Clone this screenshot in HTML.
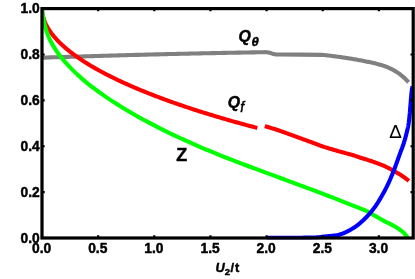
<!DOCTYPE html>
<html><head><meta charset="utf-8"><title>chart</title>
<style>
html,body{margin:0;padding:0;background:#fff;}
body{width:415px;height:279px;position:relative;overflow:hidden;font-family:"Liberation Sans",sans-serif;color:#000;}
.yl{position:absolute;left:0;width:39.8px;text-align:right;font-weight:bold;font-size:13.8px;line-height:15px;height:15px;transform:scaleX(1.0);transform-origin:right center;-webkit-text-stroke:0.45px #000;}
.xl{position:absolute;top:241.3px;width:40px;text-align:center;font-weight:bold;font-size:13.8px;line-height:15px;height:15px;transform:scaleX(1.0);-webkit-text-stroke:0.45px #000;}
.lb{position:absolute;white-space:nowrap;font-weight:bold;line-height:1;-webkit-text-stroke:0.45px #000;}
.lb i{font-style:italic;}
.lb sub{vertical-align:baseline;position:relative;}
</style></head><body>
<svg width="415" height="279" viewBox="0 0 415 279" style="position:absolute;left:0;top:0">
<defs><clipPath id="cp"><rect x="42.0" y="8.6" width="371.20" height="230.90"/></clipPath></defs>
<g fill="none" stroke-width="4.1" stroke-linejoin="round" stroke-linecap="butt" clip-path="url(#cp)">
<path d="M42.00,57.69 L44.83,57.59 L47.66,57.50 L50.49,57.41 L53.32,57.32 L56.15,57.23 L58.97,57.14 L61.80,57.05 L64.63,56.96 L67.46,56.87 L70.29,56.78 L73.12,56.69 L75.95,56.60 L78.78,56.52 L81.61,56.43 L84.44,56.35 L87.27,56.26 L90.09,56.18 L92.92,56.10 L95.75,56.01 L98.58,55.93 L101.41,55.85 L104.24,55.77 L107.07,55.69 L109.90,55.61 L112.73,55.53 L115.56,55.45 L118.39,55.37 L121.22,55.30 L124.04,55.22 L126.87,55.14 L129.70,55.07 L132.53,54.99 L135.36,54.92 L138.19,54.84 L141.02,54.77 L143.85,54.70 L146.68,54.63 L149.51,54.56 L152.34,54.49 L155.16,54.42 L157.99,54.35 L160.82,54.28 L163.65,54.21 L166.48,54.14 L169.31,54.07 L172.14,54.01 L174.97,53.94 L177.80,53.88 L180.63,53.81 L183.46,53.75 L186.28,53.68 L189.11,53.62 L191.94,53.56 L194.77,53.50 L197.60,53.44 L200.43,53.38 L203.26,53.32 L206.09,53.26 L208.92,53.20 L211.75,53.14 L214.58,53.08 L217.41,53.03 L220.23,52.97 L223.06,52.91 L225.89,52.86 L228.72,52.80 L231.55,52.75 L234.38,52.70 L237.21,52.64 L240.04,52.59 L242.87,52.54 L245.70,52.49 L248.53,52.44 L251.35,52.39 L254.18,52.34 L257.01,52.29 L259.84,52.25 L262.67,52.20 L265.50,52.15 L265.71,52.17 L265.92,52.19 L266.13,52.21 L266.33,52.22 L266.54,52.24 L266.75,52.25 L266.96,52.27 L267.17,52.29 L267.38,52.31 L267.58,52.34 L267.79,52.37 L268.00,52.40 L268.21,52.44 L268.42,52.48 L268.62,52.52 L268.83,52.56 L269.03,52.61 L269.24,52.66 L269.45,52.71 L269.65,52.77 L269.86,52.82 L270.07,52.88 L270.28,52.94 L270.50,53.00 L270.74,53.07 L270.98,53.15 L271.23,53.24 L271.47,53.33 L271.72,53.42 L271.97,53.51 L272.22,53.60 L272.47,53.69 L272.73,53.78 L272.98,53.86 L273.24,53.93 L273.50,54.00 L273.77,54.06 L274.05,54.12 L274.33,54.18 L274.62,54.23 L274.90,54.27 L275.19,54.32 L275.48,54.36 L275.77,54.39 L276.05,54.42 L276.34,54.45 L276.62,54.48 L276.90,54.50 L277.16,54.52 L277.42,54.53 L277.68,54.53 L277.94,54.53 L278.20,54.53 L278.46,54.53 L278.71,54.52 L278.97,54.52 L279.23,54.51 L279.48,54.51 L279.74,54.50 L280.00,54.50 L300.90,54.60 L322.20,54.83 L323.29,54.95 L324.39,55.07 L325.48,55.19 L326.57,55.32 L327.67,55.44 L328.76,55.57 L329.86,55.70 L330.95,55.84 L332.04,55.97 L333.14,56.11 L334.23,56.25 L335.32,56.39 L336.42,56.54 L337.51,56.68 L338.61,56.83 L339.70,56.98 L340.79,57.13 L341.89,57.29 L342.98,57.45 L344.07,57.61 L345.17,57.77 L346.26,57.94 L347.35,58.11 L348.45,58.28 L349.54,58.45 L350.64,58.63 L351.73,58.81 L352.82,58.99 L353.92,59.18 L355.01,59.37 L356.10,59.56 L357.20,59.75 L358.29,59.95 L359.38,60.15 L360.48,60.36 L361.57,60.57 L362.67,60.78 L363.76,60.99 L364.85,61.21 L365.95,61.43 L367.04,61.66 L368.13,61.88 L369.23,62.12 L370.32,62.35 L371.42,62.59 L372.51,62.83 L373.60,63.08 L374.70,63.33 L375.79,63.60 L376.88,63.87 L377.98,64.15 L379.07,64.44 L380.16,64.74 L381.26,65.06 L382.35,65.40 L383.45,65.75 L384.54,66.13 L385.63,66.52 L386.73,66.94 L387.82,67.38 L388.91,67.85 L390.01,68.34 L391.10,68.86 L392.19,69.41 L393.29,69.99 L394.38,70.61 L395.48,71.25 L396.57,71.94 L397.66,72.66 L398.76,73.42 L399.85,74.22 L400.94,75.06 L402.04,75.95 L403.13,76.88 L404.23,77.85 L405.32,78.87 L406.41,79.95 L407.51,81.07 L408.60,82.24" stroke="#808080"/>
<path d="M42.00,8.28 L42.01,8.86 L42.02,9.45 L42.05,10.04 L42.09,10.63 L42.14,11.22 L42.20,11.82 L42.27,12.41 L42.35,13.00 L42.44,13.59 L42.54,14.19 L42.66,14.78 L42.78,15.38 L42.92,15.97 L43.07,16.57 L43.22,17.17 L43.39,17.76 L43.57,18.36 L43.76,18.96 L43.96,19.56 L44.17,20.16 L44.40,20.76 L44.63,21.36 L44.88,21.96 L45.13,22.56 L45.40,23.16 L45.68,23.76 L45.96,24.36 L46.26,24.96 L46.57,25.57 L46.89,26.17 L47.22,26.77 L47.57,27.38 L47.92,27.98 L48.28,28.59 L48.66,29.19 L49.05,29.80 L49.44,30.40 L49.85,31.01 L50.27,31.62 L50.70,32.22 L51.14,32.83 L51.59,33.44 L52.05,34.05 L52.53,34.65 L53.01,35.26 L53.50,35.87 L54.01,36.48 L54.53,37.09 L55.05,37.70 L55.59,38.31 L56.14,38.92 L56.70,39.53 L57.27,40.14 L57.85,40.75 L58.45,41.36 L59.05,41.97 L59.66,42.58 L60.29,43.20 L60.93,43.81 L61.57,44.42 L62.23,45.03 L62.90,45.64 L63.58,46.26 L64.27,46.87 L64.97,47.48 L65.68,48.09 L66.41,48.71 L67.14,49.32 L67.88,49.93 L68.64,50.55 L69.41,51.16 L70.18,51.77 L70.97,52.39 L71.77,53.00 L72.58,53.61 L73.40,54.23 L74.23,54.84 L75.08,55.46 L75.93,56.07 L76.80,56.68 L77.67,57.30 L78.56,57.91 L79.45,58.53 L80.36,59.14 L81.28,59.76 L82.21,60.37 L83.15,60.98 L84.10,61.60 L85.06,62.21 L86.04,62.83 L87.02,63.44 L88.02,64.05 L89.02,64.67 L90.04,65.28 L91.07,65.90 L92.10,66.51 L93.15,67.12 L94.21,67.74 L95.29,68.35 L96.37,68.96 L97.46,69.58 L98.56,70.19 L99.68,70.80 L100.80,71.42 L101.94,72.03 L103.09,72.64 L104.25,73.25 L105.41,73.86 L106.59,74.48 L107.78,75.09 L108.99,75.70 L110.20,76.31 L111.42,76.92 L112.66,77.53 L113.90,78.15 L115.16,78.76 L116.42,79.37 L117.70,79.98 L118.99,80.59 L120.29,81.20 L121.60,81.81 L122.92,82.41 L124.25,83.02 L125.60,83.63 L126.95,84.24 L128.31,84.85 L129.69,85.46 L131.08,86.06 L132.47,86.67 L133.88,87.28 L135.30,87.88 L136.73,88.49 L138.17,89.10 L139.62,89.70 L141.08,90.31 L142.56,90.91 L144.04,91.52 L145.54,92.12 L147.04,92.72 L148.56,93.33 L150.09,93.93 L151.63,94.53 L153.18,95.13 L154.74,95.73 L156.31,96.34 L157.89,96.94 L159.48,97.54 L161.09,98.14 L162.70,98.74 L164.33,99.33 L165.96,99.93 L167.61,100.53 L169.27,101.13 L170.94,101.72 L172.62,102.32 L174.31,102.92 L176.01,103.51 L177.72,104.11 L179.45,104.70 L181.18,105.30 L182.93,105.89 L184.68,106.48 L186.45,107.07 L188.23,107.66 L190.02,108.26 L191.81,108.85 L193.63,109.44 L195.45,110.03 L197.28,110.61 L199.12,111.20 L200.98,111.79 L202.84,112.38 L204.72,112.96 L206.60,113.55 L208.50,114.13 L210.41,114.72 L212.33,115.30 L214.26,115.88 L216.20,116.46 L218.15,117.05 L220.11,117.63 L222.09,118.21 L224.07,118.79 L226.07,119.36 L228.07,119.94 L230.09,120.52 L232.12,121.10 L234.16,121.67 L236.21,122.25 L238.27,122.82 L240.34,123.39 L242.42,123.97 L244.51,124.54 L246.62,125.11 L248.73,125.68 L250.86,126.25 L252.99,126.82 L255.14,127.39 L257.30,127.95" stroke="#ff0000"/>
<path d="M264.80,126.10 L265.36,126.27 L265.92,126.43 L266.48,126.60 L267.03,126.76 L267.59,126.93 L268.15,127.09 L268.71,127.26 L269.27,127.43 L269.83,127.59 L270.38,127.76 L270.94,127.93 L271.50,128.10 L272.05,128.27 L272.60,128.43 L273.14,128.60 L273.68,128.76 L274.22,128.93 L274.76,129.09 L275.30,129.26 L275.85,129.43 L276.42,129.61 L276.99,129.80 L277.59,130.00 L278.20,130.20 L279.01,130.48 L279.85,130.77 L280.72,131.08 L281.61,131.40 L282.52,131.73 L283.44,132.06 L284.37,132.40 L285.30,132.74 L286.23,133.09 L287.17,133.43 L288.09,133.77 L289.00,134.10 L289.91,134.43 L290.82,134.76 L291.74,135.09 L292.65,135.42 L293.56,135.76 L294.48,136.09 L295.39,136.42 L296.31,136.76 L297.23,137.09 L298.15,137.43 L299.07,137.76 L300.00,138.10 L300.95,138.45 L301.90,138.79 L302.86,139.14 L303.81,139.49 L304.77,139.84 L305.73,140.19 L306.69,140.54 L307.65,140.89 L308.62,141.24 L309.58,141.59 L310.54,141.95 L311.50,142.30 L312.47,142.66 L313.45,143.03 L314.43,143.40 L315.42,143.77 L316.40,144.15 L317.39,144.52 L318.37,144.89 L319.34,145.26 L320.30,145.61 L321.25,145.96 L322.18,146.29 L323.10,146.60 L323.88,146.86 L324.65,147.11 L325.41,147.35 L326.15,147.58 L326.89,147.80 L327.63,148.02 L328.36,148.23 L329.09,148.45 L329.81,148.66 L330.54,148.87 L331.27,149.08 L332.00,149.30 L332.71,149.51 L333.41,149.72 L334.10,149.93 L334.79,150.14 L335.48,150.34 L336.17,150.55 L336.86,150.75 L337.56,150.96 L338.27,151.17 L339.00,151.37 L339.74,151.59 L340.50,151.80 L341.43,152.06 L342.41,152.32 L343.41,152.58 L344.44,152.84 L345.48,153.11 L346.53,153.38 L347.57,153.65 L348.61,153.92 L349.63,154.19 L350.62,154.46 L351.58,154.73 L352.50,155.00 L353.22,155.22 L353.92,155.44 L354.59,155.67 L355.25,155.89 L355.90,156.11 L356.54,156.34 L357.17,156.56 L357.81,156.78 L358.46,157.01 L359.12,157.24 L359.80,157.47 L360.50,157.70 L361.33,157.97 L362.17,158.23 L363.03,158.50 L363.90,158.77 L364.79,159.04 L365.68,159.31 L366.58,159.58 L367.47,159.86 L368.36,160.14 L369.25,160.42 L370.13,160.71 L371.00,161.00 L371.85,161.29 L372.71,161.59 L373.57,161.89 L374.43,162.20 L375.29,162.51 L376.14,162.82 L376.98,163.14 L377.82,163.45 L378.64,163.77 L379.45,164.08 L380.23,164.39 L381.00,164.70 L381.63,164.96 L382.25,165.21 L382.85,165.46 L383.44,165.71 L384.02,165.96 L384.59,166.21 L385.16,166.47 L385.73,166.72 L386.29,166.98 L386.86,167.25 L387.43,167.52 L388.00,167.80 L388.59,168.09 L389.18,168.39 L389.76,168.70 L390.35,169.01 L390.93,169.32 L391.51,169.64 L392.10,169.96 L392.68,170.28 L393.26,170.61 L393.84,170.94 L394.42,171.27 L395.00,171.60 L395.59,171.94 L396.17,172.27 L396.76,172.61 L397.35,172.95 L397.94,173.29 L398.52,173.63 L399.11,173.98 L399.69,174.34 L400.27,174.69 L400.85,175.06 L401.43,175.42 L402.00,175.80 L402.58,176.19 L403.16,176.59 L403.74,177.00 L404.32,177.41 L404.89,177.83 L405.47,178.26 L406.04,178.68 L406.61,179.11 L407.18,179.53 L407.75,179.96 L408.33,180.38 L408.90,180.80" stroke="#ff0000"/>
<path d="M42.00,8.24 L42.01,8.70 L42.03,9.24 L42.07,9.85 L42.13,10.52 L42.20,11.26 L42.30,12.06 L42.40,12.91 L42.52,13.81 L42.66,14.75 L42.82,15.75 L42.99,16.77 L43.18,17.84 L43.39,18.93 L43.61,20.06 L43.84,21.20 L44.10,22.36 L44.37,23.54 L44.66,24.73 L44.96,25.93 L45.28,27.13 L45.61,28.32 L45.97,29.52 L46.34,30.70 L46.72,31.87 L47.12,33.02 L47.54,34.16 L47.98,35.29 L48.43,36.40 L48.89,37.49 L49.38,38.58 L49.88,39.65 L50.39,40.71 L50.93,41.76 L51.48,42.80 L52.04,43.84 L52.62,44.87 L53.22,45.89 L53.84,46.91 L54.47,47.92 L55.11,48.93 L55.78,49.93 L56.46,50.94 L57.16,51.94 L57.87,52.94 L58.60,53.95 L59.34,54.95 L60.11,55.95 L60.89,56.95 L61.68,57.95 L62.49,58.95 L63.32,59.95 L64.16,60.94 L65.02,61.94 L65.90,62.94 L66.80,63.93 L67.71,64.93 L68.63,65.93 L69.57,66.92 L70.53,67.92 L71.51,68.91 L72.50,69.90 L73.51,70.90 L74.53,71.89 L75.57,72.88 L76.63,73.88 L77.71,74.87 L78.80,75.86 L79.90,76.85 L81.02,77.84 L82.16,78.83 L83.32,79.82 L84.49,80.82 L85.68,81.81 L86.89,82.80 L88.11,83.79 L89.34,84.78 L90.60,85.77 L91.87,86.76 L93.16,87.75 L94.46,88.73 L95.78,89.72 L97.12,90.71 L98.47,91.70 L99.84,92.69 L101.22,93.68 L102.62,94.67 L104.04,95.66 L105.48,96.65 L106.93,97.64 L108.39,98.63 L109.88,99.62 L111.38,100.61 L112.89,101.60 L114.43,102.59 L115.98,103.58 L117.54,104.57 L119.12,105.56 L120.72,106.55 L122.34,107.54 L123.97,108.54 L125.62,109.53 L127.28,110.52 L128.96,111.51 L130.66,112.50 L132.37,113.50 L134.10,114.49 L135.84,115.48 L137.61,116.47 L139.39,117.46 L141.18,118.46 L142.99,119.45 L144.82,120.44 L146.66,121.43 L148.53,122.42 L150.40,123.42 L152.30,124.41 L154.21,125.40 L156.13,126.39 L158.07,127.38 L160.03,128.37 L162.01,129.36 L164.00,130.35 L166.01,131.33 L168.03,132.32 L170.07,133.31 L172.13,134.30 L174.21,135.28 L176.30,136.27 L178.40,137.26 L180.53,138.24 L182.66,139.22 L184.82,140.21 L186.99,141.19 L189.18,142.17 L191.39,143.15 L193.61,144.13 L195.85,145.11 L198.10,146.09 L200.37,147.07 L202.66,148.05 L204.96,149.02 L207.28,150.00 L209.62,150.97 L211.97,151.95 L214.34,152.92 L216.72,153.89 L219.12,154.86 L221.54,155.83 L223.98,156.80 L226.43,157.76 L228.89,158.73 L231.38,159.70 L233.88,160.66 L236.39,161.63 L238.93,162.60 L241.48,163.57 L244.04,164.54 L246.62,165.51 L249.22,166.49 L251.84,167.47 L254.47,168.45 L257.12,169.43 L259.78,170.42 L262.46,171.41 L265.16,172.41 L267.87,173.41 L270.60,174.41 L273.35,175.42 L276.11,176.44 L278.89,177.46 L281.68,178.49 L284.49,179.52 L287.32,180.56 L290.17,181.61 L293.03,182.66 L295.90,183.73 L298.80,184.80 L301.71,185.88 L304.63,186.97 L307.58,188.06 L310.53,189.17 L313.51,190.29 L316.50,191.41 L319.51,192.55 L322.53,193.70 L325.58,194.86 L328.63,196.02 L331.71,197.21 L334.80,198.40 L337.90,199.60 L341.03,200.82 L344.17,202.05 L347.32,203.30 L350.49,204.56 L353.68,205.83 L356.89,207.11 L357.70,207.44 L358.53,207.77 L359.37,208.09 L360.21,208.41 L361.05,208.74 L361.88,209.06 L362.71,209.39 L363.53,209.71 L364.33,210.04 L365.11,210.38 L365.87,210.72 L366.60,211.06 L367.19,211.35 L367.76,211.65 L368.30,211.95 L368.84,212.25 L369.36,212.55 L369.88,212.85 L370.39,213.16 L370.90,213.46 L371.42,213.77 L371.94,214.08 L372.46,214.39 L373.00,214.70 L373.58,215.03 L374.16,215.36 L374.76,215.70 L375.35,216.05 L375.95,216.39 L376.55,216.73 L377.15,217.08 L377.74,217.41 L378.32,217.75 L378.90,218.07 L379.46,218.39 L380.00,218.70 L380.44,218.95 L380.88,219.20 L381.30,219.44 L381.72,219.68 L382.12,219.92 L382.53,220.15 L382.93,220.38 L383.34,220.61 L383.75,220.83 L384.16,221.06 L384.57,221.28 L385.00,221.50 L385.45,221.73 L385.90,221.94 L386.35,222.16 L386.81,222.37 L387.26,222.58 L387.73,222.78 L388.19,222.99 L388.65,223.20 L389.11,223.42 L389.58,223.64 L390.04,223.87 L390.50,224.10 L390.98,224.35 L391.47,224.61 L391.96,224.88 L392.45,225.15 L392.94,225.42 L393.43,225.70 L393.92,225.98 L394.41,226.26 L394.89,226.54 L395.37,226.83 L395.84,227.11 L396.30,227.40 L396.74,227.68 L397.18,227.96 L397.63,228.25 L398.07,228.54 L398.51,228.83 L398.95,229.12 L399.37,229.41 L399.79,229.70 L400.19,229.99 L400.58,230.27 L400.95,230.54 L401.30,230.80 L401.54,230.98 L401.77,231.16 L401.99,231.33 L402.20,231.49 L402.41,231.65 L402.61,231.81 L402.80,231.98 L403.00,232.14 L403.19,232.32 L403.39,232.50 L403.59,232.69 L403.80,232.90 L404.07,233.18 L404.35,233.49 L404.64,233.81 L404.93,234.15 L405.22,234.50 L405.51,234.86 L405.80,235.22 L406.07,235.57 L406.33,235.90 L406.58,236.23 L406.80,236.53 L407.00,236.80 L407.11,236.95 L407.21,237.10 L407.30,237.24 L407.39,237.38 L407.47,237.51 L407.55,237.64 L407.62,237.76 L407.69,237.89 L407.77,238.01 L407.84,238.14 L407.92,238.27 L408.00,238.40" stroke="#00ff00"/>
<path d="M266.70,237.70 L268.65,237.70 L270.60,237.70 L272.57,237.70 L274.53,237.70 L276.50,237.71 L278.46,237.71 L280.42,237.71 L282.37,237.71 L284.30,237.71 L286.22,237.71 L288.12,237.70 L290.00,237.70 L291.75,237.70 L293.53,237.69 L295.32,237.69 L297.11,237.69 L298.90,237.69 L300.66,237.68 L302.38,237.68 L304.06,237.67 L305.67,237.66 L307.21,237.64 L308.65,237.62 L310.00,237.60 L310.80,237.58 L311.56,237.57 L312.30,237.55 L313.00,237.53 L313.68,237.51 L314.34,237.49 L314.98,237.47 L315.61,237.44 L316.22,237.42 L316.82,237.38 L317.41,237.34 L318.00,237.30 L318.46,237.26 L318.90,237.22 L319.33,237.17 L319.75,237.12 L320.17,237.07 L320.57,237.01 L320.98,236.96 L321.38,236.90 L321.78,236.85 L322.18,236.80 L322.59,236.75 L323.00,236.70 L323.42,236.65 L323.83,236.61 L324.25,236.57 L324.67,236.53 L325.08,236.48 L325.50,236.44 L325.92,236.40 L326.33,236.36 L326.75,236.32 L327.17,236.28 L327.58,236.24 L328.00,236.20 L328.42,236.16 L328.83,236.12 L329.25,236.08 L329.67,236.04 L330.08,236.00 L330.50,235.96 L330.92,235.92 L331.33,235.88 L331.75,235.84 L332.17,235.79 L332.58,235.75 L333.00,235.70 L333.42,235.65 L333.84,235.60 L334.25,235.56 L334.67,235.51 L335.09,235.47 L335.51,235.42 L335.92,235.36 L336.34,235.30 L336.76,235.24 L337.17,235.17 L337.59,235.09 L338.00,235.00 L338.42,234.90 L338.84,234.79 L339.26,234.68 L339.68,234.56 L340.10,234.43 L340.51,234.30 L340.93,234.16 L341.35,234.01 L341.76,233.87 L342.17,233.71 L342.59,233.56 L343.00,233.40 L343.42,233.23 L343.84,233.06 L344.26,232.88 L344.68,232.70 L345.10,232.51 L345.51,232.32 L345.93,232.12 L346.35,231.92 L346.76,231.72 L347.17,231.52 L347.59,231.31 L348.00,231.10 L348.42,230.88 L348.84,230.67 L349.26,230.45 L349.68,230.22 L350.10,230.00 L350.52,229.76 L350.93,229.53 L351.35,229.29 L351.76,229.05 L352.18,228.81 L352.59,228.56 L353.00,228.30 L353.42,228.03 L353.84,227.76 L354.26,227.49 L354.67,227.22 L355.08,226.94 L355.50,226.65 L355.91,226.36 L356.32,226.07 L356.74,225.76 L357.16,225.45 L357.58,225.13 L358.00,224.80 L358.49,224.41 L358.99,224.00 L359.49,223.59 L359.99,223.16 L360.49,222.73 L361.00,222.28 L361.50,221.83 L362.01,221.37 L362.51,220.91 L363.01,220.44 L363.51,219.97 L364.00,219.50 L364.51,219.01 L365.02,218.51 L365.53,218.00 L366.03,217.50 L366.54,216.98 L367.04,216.46 L367.54,215.94 L368.04,215.40 L368.53,214.86 L369.02,214.32 L369.51,213.76 L370.00,213.20 L370.52,212.59 L371.03,211.98 L371.54,211.36 L372.05,210.73 L372.55,210.09 L373.05,209.45 L373.55,208.79 L374.05,208.13 L374.54,207.46 L375.03,206.78 L375.52,206.10 L376.00,205.40 L376.52,204.64 L377.03,203.86 L377.54,203.07 L378.05,202.27 L378.55,201.47 L379.05,200.65 L379.55,199.82 L380.04,198.99 L380.53,198.15 L381.02,197.30 L381.51,196.45 L382.00,195.60 L382.51,194.69 L383.03,193.78 L383.54,192.86 L384.05,191.93 L384.55,191.00 L385.05,190.06 L385.55,189.11 L386.05,188.15 L386.54,187.18 L387.03,186.20 L387.52,185.21 L388.00,184.20 L388.53,183.07 L389.06,181.91 L389.58,180.71 L390.11,179.50 L390.64,178.27 L391.15,177.04 L391.66,175.81 L392.16,174.60 L392.64,173.40 L393.11,172.23 L393.57,171.09 L394.00,170.00 L394.34,169.14 L394.66,168.31 L394.97,167.49 L395.27,166.68 L395.56,165.89 L395.84,165.11 L396.12,164.33 L396.40,163.57 L396.67,162.80 L396.94,162.04 L397.22,161.27 L397.50,160.50 L397.77,159.76 L398.03,159.03 L398.30,158.29 L398.56,157.55 L398.82,156.82 L399.09,156.09 L399.34,155.37 L399.60,154.66 L399.85,153.95 L400.11,153.25 L400.35,152.57 L400.60,151.90 L400.81,151.33 L401.02,150.78 L401.22,150.25 L401.43,149.72 L401.63,149.19 L401.83,148.68 L402.03,148.16 L402.23,147.64 L402.42,147.12 L402.62,146.59 L402.81,146.05 L403.00,145.50 L403.20,144.90 L403.40,144.29 L403.60,143.67 L403.80,143.04 L404.00,142.41 L404.19,141.78 L404.39,141.14 L404.58,140.51 L404.76,139.88 L404.94,139.25 L405.12,138.62 L405.30,138.00 L405.47,137.41 L405.63,136.82 L405.79,136.22 L405.94,135.63 L406.10,135.04 L406.25,134.46 L406.40,133.87 L406.54,133.29 L406.69,132.71 L406.83,132.13 L406.97,131.56 L407.10,131.00 L407.22,130.49 L407.34,129.99 L407.46,129.51 L407.57,129.03 L407.68,128.55 L407.79,128.07 L407.90,127.59 L408.00,127.10 L408.11,126.60 L408.21,126.09 L408.30,125.55 L408.40,125.00 L408.52,124.26 L408.63,123.48 L408.75,122.68 L408.85,121.85 L408.96,121.00 L409.06,120.14 L409.15,119.28 L409.25,118.41 L409.34,117.54 L409.43,116.68 L409.51,115.83 L409.60,115.00 L409.68,114.21 L409.75,113.42 L409.83,112.63 L409.89,111.85 L409.96,111.07 L410.02,110.29 L410.09,109.51 L410.15,108.73 L410.21,107.95 L410.27,107.17 L410.33,106.39 L410.40,105.60 L410.47,104.80 L410.53,104.00 L410.60,103.19 L410.66,102.37 L410.72,101.56 L410.79,100.75 L410.85,99.94 L410.92,99.14 L410.99,98.34 L411.06,97.55 L411.13,96.77 L411.20,96.00 L411.27,95.29 L411.34,94.56 L411.42,93.81 L411.50,93.07 L411.58,92.32 L411.66,91.60 L411.74,90.89 L411.82,90.22 L411.90,89.58 L411.97,88.99 L412.04,88.46 L412.10,88.00 L412.13,87.80 L412.15,87.63 L412.18,87.46 L412.21,87.30 L412.23,87.16 L412.26,87.02 L412.28,86.88 L412.30,86.75 L412.33,86.62 L412.35,86.49 L412.38,86.35 L412.40,86.20" stroke="#0000ff"/>
</g>
<rect x="42.0" y="8.6" width="371.20" height="229.40" fill="none" stroke="#000" stroke-width="3.2"/>
<path d="M42.00,238.0v-2.7M42.00,8.6v2.7M98.15,238.0v-2.7M98.15,8.6v2.7M154.30,238.0v-2.7M154.30,8.6v2.7M210.45,238.0v-2.7M210.45,8.6v2.7M266.60,238.0v-2.7M266.60,8.6v2.7M322.75,238.0v-2.7M322.75,8.6v2.7M378.90,238.0v-2.7M378.90,8.6v2.7M42.0,238.00h2.7M413.2,238.00h-2.7M42.0,192.12h2.7M413.2,192.12h-2.7M42.0,146.24h2.7M413.2,146.24h-2.7M42.0,100.36h2.7M413.2,100.36h-2.7M42.0,54.48h2.7M413.2,54.48h-2.7M42.0,8.60h2.7M413.2,8.60h-2.7" stroke="#000" stroke-width="2.2" fill="none"/>
</svg>
<div id="txt" style="position:absolute;left:0;top:0;width:415px;height:279px;will-change:transform;filter:grayscale(1);">
<div class="yl" style="top:230.50px">0.0</div>
<div class="yl" style="top:184.62px">0.2</div>
<div class="yl" style="top:138.74px">0.4</div>
<div class="yl" style="top:92.86px">0.6</div>
<div class="yl" style="top:46.98px">0.8</div>
<div class="yl" style="top:1.25px">1.0</div>
<div class="xl" style="left:21.60px">0.0</div>
<div class="xl" style="left:77.75px">0.5</div>
<div class="xl" style="left:133.90px">1.0</div>
<div class="xl" style="left:190.05px">1.5</div>
<div class="xl" style="left:246.20px">2.0</div>
<div class="xl" style="left:302.35px">2.5</div>
<div class="xl" style="left:358.50px">3.0</div>
<div class="lb" style="left:238.4px;top:28.6px;font-size:15.8px;"><i>Q</i><sub style="font-size:13px;top:4.0px;left:0.7px;font-style:italic">&theta;</sub></div>
<div class="lb" style="left:227.8px;top:94.6px;font-size:15.8px;"><i>Q</i><sub style="font-size:13.8px;top:4.9px;left:0.2px;font-style:italic;font-weight:normal;-webkit-text-stroke:0.5px #000">f</sub></div>
<div class="lb" style="left:176.3px;top:147.2px;font-size:17.9px;">Z</div>
<div class="lb" style="left:389.2px;top:123.2px;font-size:18.7px;font-weight:normal;-webkit-text-stroke:0.1px #000;">&Delta;</div>
<div class="lb" style="left:215.5px;top:262.2px;font-size:12.8px;"><i>U</i><sub style="font-size:9.5px;top:2.9px;">2</sub><span style="letter-spacing:0.9px;margin-left:0.4px">/t</span></div>
</div>
</body></html>
